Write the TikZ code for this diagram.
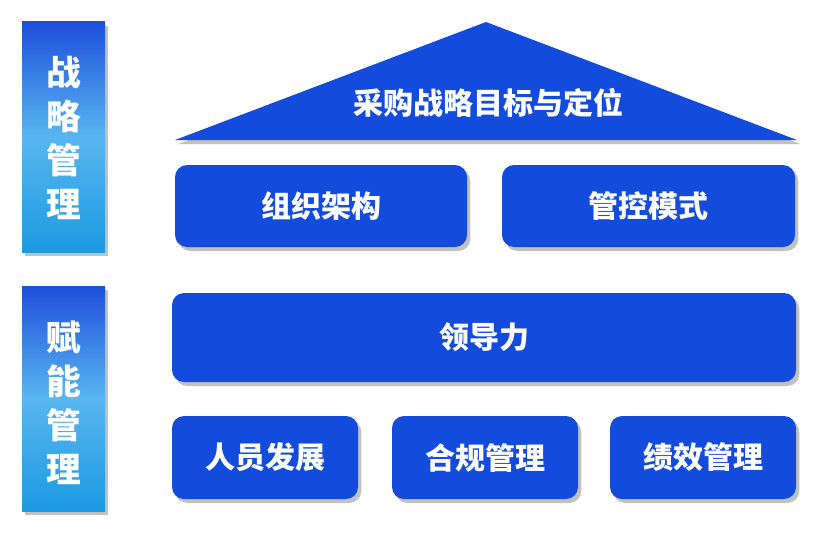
\documentclass[tikz,border=0pt]{standalone}
\usepackage{fontspec}
\newfontfamily\cjk{Noto Sans CJK SC}
\usetikzlibrary{shadows}
\definecolor{boxblue}{HTML}{134BDC}
\definecolor{bartop}{HTML}{1E4FDB}
\definecolor{barmid}{HTML}{58B6F0}
\definecolor{barbot}{HTML}{1B9AE2}
\begin{document}
\begin{tikzpicture}[x=0.75pt,y=-0.75pt,
  shad/.style={drop shadow={shadow xshift=2.5pt,shadow yshift=-3pt,opacity=0.35,fill=black!70}},
  bluebox/.style={fill=boxblue,rounded corners=9pt,shad},
  bar/.style={top color=bartop,bottom color=barbot,middle color=barmid,shad},
  lbl/.style={text=white,font=\cjk\bfseries\fontsize{22.5}{27}\selectfont},
  barlbl/.style={text=white,align=center,font=\cjk\bfseries\fontsize{26}{33}\selectfont}]
\useasboundingbox (0,0) rectangle (816,535);
% left bars
\path[bar] (22,22) rectangle (105,252);
\node[barlbl] (b1) at (63.5,138) {战\\略\\管\\理};
\path[bar] (22,286) rectangle (105,511);
\node[barlbl] (b2) at (63.5,403) {赋\\能\\管\\理};
% triangle
\path[fill=boxblue,shad] (175,140) -- (486,22) -- (797,140) -- cycle;
\node[lbl] (tri) at (488,103) {采购战略目标与定位};
% row 1
\path[bluebox] (175,165) rectangle (467,247);
\node[lbl] (org) at (321,206) {组织架构};
\path[bluebox] (502,165) rectangle (795,247);
\node[lbl] (ctl) at (648.5,206) {管控模式};
% row 2
\path[bluebox] (172,293) rectangle (796,382);
\node[lbl] (lead) at (484,337.5) {领导力};
% row 3
\path[bluebox] (172,416) rectangle (358,499);
\node[lbl] (hr) at (265,457.5) {人员发展};
\path[bluebox] (392,416) rectangle (578,499);
\node[lbl] (comp) at (485,457.5) {合规管理};
\path[bluebox] (610,416) rectangle (796,499);
\node[lbl] (perf) at (703,457.5) {绩效管理};
\end{tikzpicture}
\end{document}
